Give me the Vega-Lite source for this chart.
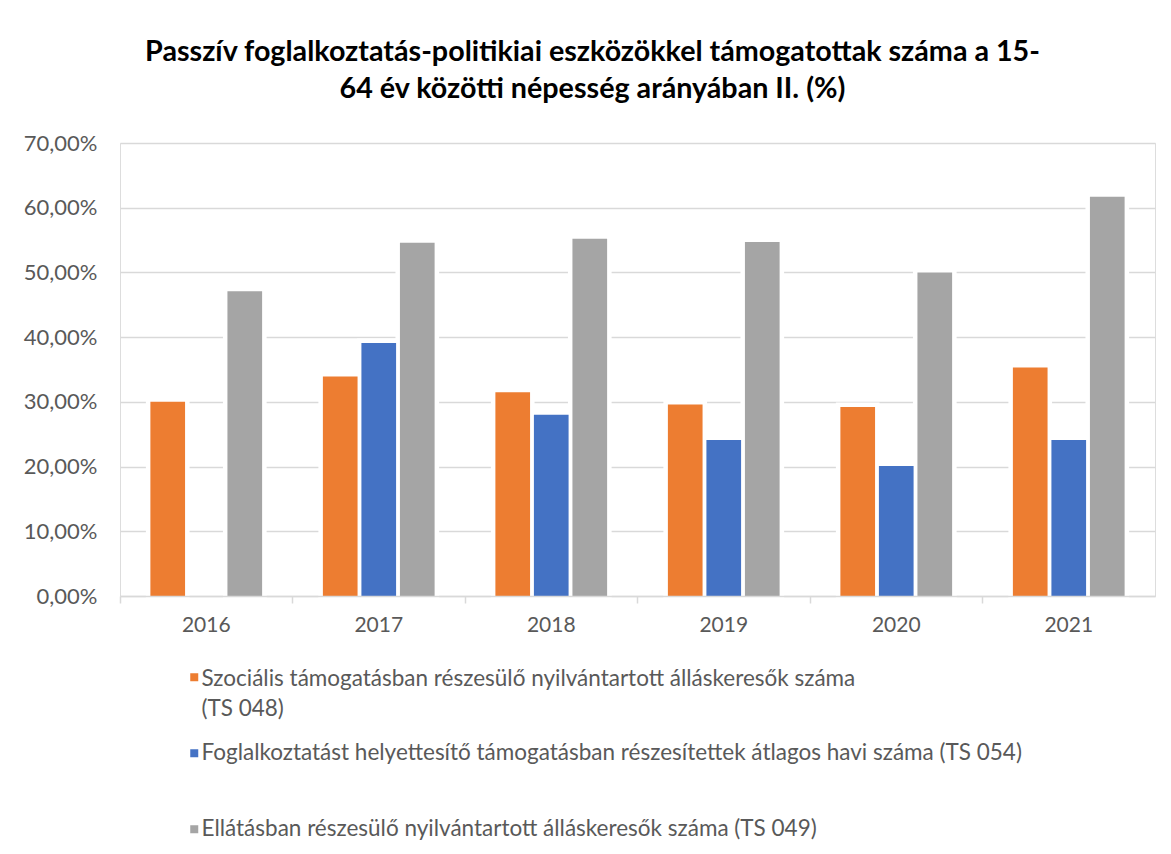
{
  "$schema": "https://vega.github.io/schema/vega-lite/v6.json",
  "width": 1035,
  "height": 453,
  "autosize": {"type": "none"},
  "padding": {"left": 120, "top": 143, "right": 16, "bottom": 258},
  "background": "white",
  "title": {
    "text": ["Passzív foglalkoztatás-politikiai eszközökkel támogatottak száma a 15-", "64 év közötti népesség  arányában II. (%)"],
    "font": "Lato",
    "fontSize": 28.7,
    "fontWeight": "bold",
    "color": "#000000",
    "anchor": "middle",
    "frame": "group",
    "dx": -45,
    "lineHeight": 37,
    "offset": 28
  },
  "data": {
    "values": [
      {"year": "2016", "series": "Szociális támogatásban részesülő nyilvántartott álláskeresők száma (TS 048)", "value": 30.0},
      {"year": "2016", "series": "Ellátásban részesülő nyilvántartott álláskeresők száma (TS 049)", "value": 47.1},
      {"year": "2017", "series": "Szociális támogatásban részesülő nyilvántartott álláskeresők száma (TS 048)", "value": 33.9},
      {"year": "2017", "series": "Foglalkoztatást helyettesítő támogatásban részesítettek átlagos havi száma (TS 054)", "value": 39.1},
      {"year": "2017", "series": "Ellátásban részesülő nyilvántartott álláskeresők száma (TS 049)", "value": 54.6},
      {"year": "2018", "series": "Szociális támogatásban részesülő nyilvántartott álláskeresők száma (TS 048)", "value": 31.5},
      {"year": "2018", "series": "Foglalkoztatást helyettesítő támogatásban részesítettek átlagos havi száma (TS 054)", "value": 28.0},
      {"year": "2018", "series": "Ellátásban részesülő nyilvántartott álláskeresők száma (TS 049)", "value": 55.2},
      {"year": "2019", "series": "Szociális támogatásban részesülő nyilvántartott álláskeresők száma (TS 048)", "value": 29.6},
      {"year": "2019", "series": "Foglalkoztatást helyettesítő támogatásban részesítettek átlagos havi száma (TS 054)", "value": 24.1},
      {"year": "2019", "series": "Ellátásban részesülő nyilvántartott álláskeresők száma (TS 049)", "value": 54.7},
      {"year": "2020", "series": "Szociális támogatásban részesülő nyilvántartott álláskeresők száma (TS 048)", "value": 29.2},
      {"year": "2020", "series": "Foglalkoztatást helyettesítő támogatásban részesítettek átlagos havi száma (TS 054)", "value": 20.1},
      {"year": "2020", "series": "Ellátásban részesülő nyilvántartott álláskeresők száma (TS 049)", "value": 50.0},
      {"year": "2021", "series": "Szociális támogatásban részesülő nyilvántartott álláskeresők száma (TS 048)", "value": 35.3},
      {"year": "2021", "series": "Foglalkoztatást helyettesítő támogatásban részesítettek átlagos havi száma (TS 054)", "value": 24.1},
      {"year": "2021", "series": "Ellátásban részesülő nyilvántartott álláskeresők száma (TS 049)", "value": 61.7}
    ]
  },
  "encoding": {
    "x": {
      "field": "year",
      "type": "nominal",
      "scale": {"paddingInner": 0.33, "paddingOuter": 0.165},
      "axis": {
        "title": null,
        "labelAngle": 0,
        "bandPosition": -0.246,
        "labelFont": "Lato",
        "labelFontSize": 21,
        "labelColor": "#595959",
        "labelPadding": 11,
        "ticks": true,
        "tickSize": 7,
        "tickColor": "#d9d9d9",
        "tickWidth": 1.5,
        "domainColor": "#d9d9d9",
        "domainWidth": 1.5,
        "grid": false,
        "zindex": 1
      }
    },
    "xOffset": {
      "field": "series",
      "type": "nominal",
      "scale": {
        "domain": [
          "Szociális támogatásban részesülő nyilvántartott álláskeresők száma (TS 048)",
          "Foglalkoztatást helyettesítő támogatásban részesítettek átlagos havi száma (TS 054)",
          "Ellátásban részesülő nyilvántartott álláskeresők száma (TS 049)"
        ],
        "paddingInner": 0.1,
        "paddingOuter": 0.05
      }
    },
    "y": {
      "field": "value",
      "type": "quantitative",
      "scale": {"domain": [0, 70], "nice": false},
      "axis": {
        "title": null,
        "values": [0, 10, 20, 30, 40, 50, 60, 70],
        "labelExpr": "replace(format(datum.value, '.2f'), '.', ',') + '%'",
        "labelFont": "Lato",
        "labelFontSize": 22,
        "labelColor": "#595959",
        "labelPadding": 23,
        "ticks": false,
        "domain": false,
        "gridColor": "#d9d9d9",
        "gridWidth": 1.5
      }
    }
  },
  "layer": [
    {
      "mark": {"type": "bar", "fill": "white", "stroke": "white", "strokeWidth": 9}
    },
    {
      "mark": {"type": "bar"},
      "encoding": {
        "color": {
          "field": "series",
          "type": "nominal",
          "scale": {
            "domain": [
              "Szociális támogatásban részesülő nyilvántartott álláskeresők száma (TS 048)",
              "Foglalkoztatást helyettesítő támogatásban részesítettek átlagos havi száma (TS 054)",
              "Ellátásban részesülő nyilvántartott álláskeresők száma (TS 049)"
            ],
            "range": ["#ED7D31", "#4472C4", "#A5A5A5"]
          },
          "legend": {
            "title": null,
            "orient": "none",
            "legendX": 63,
            "legendY": 523,
            "direction": "vertical",
            "padding": 0,
            "gridAlign": "all",
            "symbolType": "square",
            "symbolSize": 64,
            "symbolStrokeWidth": 0,
            "labelFont": "Lato",
            "labelFontSize": 22.5,
            "labelColor": "#595959",
            "labelLimit": 1000,
            "labelOffset": -4,
            "rowPadding": 21,
            "labelExpr": "datum.label == 'Szociális támogatásban részesülő nyilvántartott álláskeresők száma (TS 048)' ? ['Szociális támogatásban részesülő nyilvántartott álláskeresők száma', '(TS 048)'] : datum.label",
            "encode": {
              "labels": {
                "update": {
                  "lineHeight": {"value": 30},
                  "dy": {"signal": "datum.index === 0 ? 2 : 0"}
                }
              }
            }
          }
        }
      }
    }
  ]
}
